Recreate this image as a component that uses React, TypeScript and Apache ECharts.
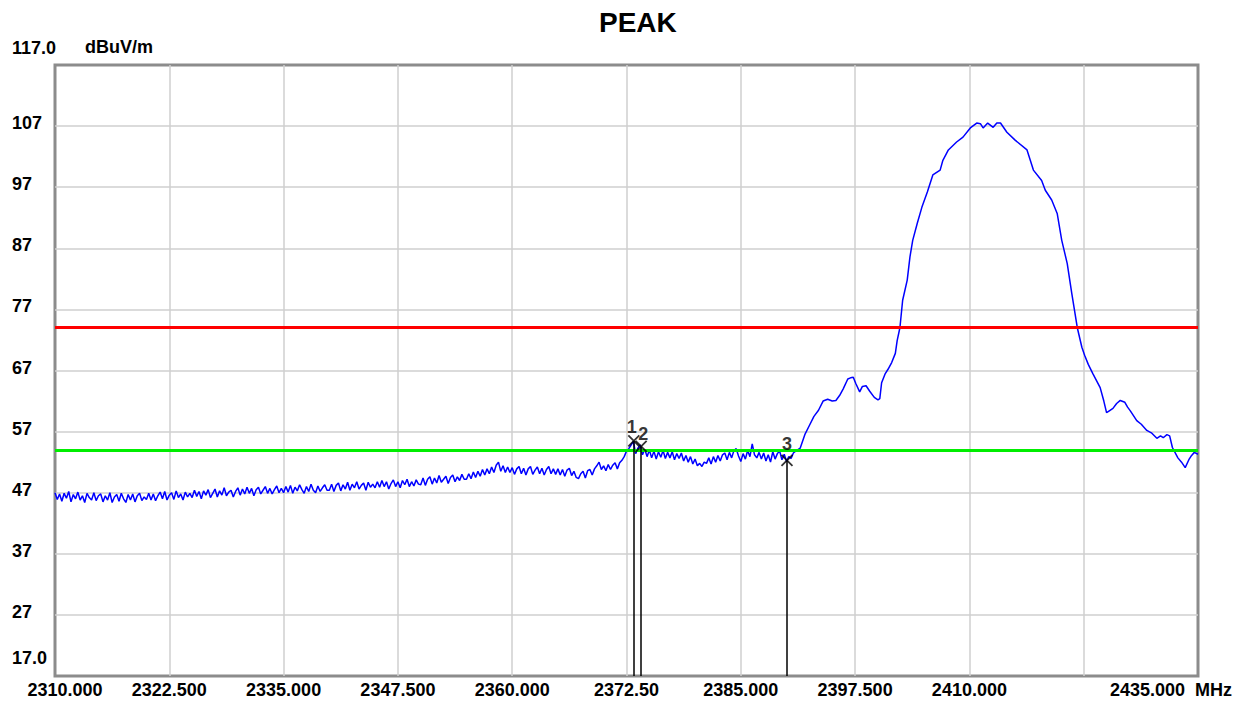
import React, { useEffect, useRef } from 'react';
import * as echarts from 'echarts';

const X_MIN = 2310;
const X_MAX = 2435;
const X_STEP = 12.5;
const Y_MIN = 17;
const Y_MAX = 117;
const Y_STEP = 10;

const xTickLabels = ['2310.000', '2322.500', '2335.000', '2347.500', '2360.000', '2372.50', '2385.000', '2397.500', '2410.000', '', '2435.000  MHz'];
const yUnit = 'dBuV/m';
const titleText = 'PEAK';

// Noise floor trace, sampled every 0.25 MHz from 2310 MHz
const noiseStartMHz = 2310;
const noiseStepMHz = 0.25;
const noiseLevels = [
  47.0, 45.9, 46.8, 45.6, 46.9, 46.1, 47.2, 45.5, 46.7, 46.0, 47.1, 45.8, 46.5, 45.4, 46.9, 46.2, 45.8, 47.0, 45.7, 46.5,
  46.8, 45.5, 46.5, 45.8, 47.0, 45.4, 46.3, 46.7, 45.6, 46.9, 46.0, 45.4, 46.7, 45.8, 46.8, 45.5, 46.5, 46.9, 45.7, 46.3,
  45.9, 46.9, 45.8, 46.8, 45.7, 46.5, 47.1, 46.0, 47.2, 45.8, 46.6, 47.0, 45.9, 47.3, 46.2, 46.8, 45.8, 47.1, 46.3, 46.9,
  46.2, 47.4, 46.4, 47.2, 46.0, 47.3, 46.6, 47.5, 46.2, 46.9, 47.6, 46.3, 47.3, 46.6, 47.8, 46.5, 47.1, 47.4, 46.3, 47.2,
  47.8, 46.6, 47.6, 46.8, 47.9, 46.9, 47.7, 46.5, 47.5, 47.9, 46.8, 47.4, 48.0, 46.9, 47.7, 46.8, 47.5, 48.1, 47.0, 47.7,
  47.0, 48.0, 47.1, 48.2, 46.9, 47.9, 47.3, 48.3, 47.5, 46.9, 48.0, 47.2, 48.4, 47.4, 47.0, 48.1, 47.2, 47.8, 48.3, 47.4,
  47.4, 48.4, 47.2, 48.2, 48.6, 47.3, 48.3, 47.6, 48.7, 47.4, 48.4, 47.8, 48.8, 47.6, 48.2, 48.6, 47.4, 48.7, 47.9, 48.4,
  47.8, 48.8, 47.9, 49.0, 48.0, 48.8, 47.6, 48.5, 49.1, 48.0, 48.8, 47.8, 49.0, 48.3, 49.2, 48.0, 48.8, 48.1, 49.1, 48.4,
  48.3, 49.4, 48.2, 49.2, 49.6, 48.4, 49.4, 48.6, 49.8, 48.7, 49.2, 49.7, 48.5, 49.5, 49.9, 48.8, 49.6, 49.0, 50.0, 49.2,
  49.2, 50.1, 49.3, 50.4, 49.5, 50.5, 49.7, 50.8, 49.9, 50.9, 50.1, 51.2, 50.3, 51.5, 52.0, 50.5, 51.4, 50.3, 51.2, 50.3,
  51.1, 50.0, 50.9, 51.3, 50.1, 51.0, 49.9, 50.9, 51.3, 50.0, 50.7, 51.2, 50.1, 51.0, 49.9, 50.8, 51.3, 50.1, 50.9, 50.0,
  50.9, 49.9, 50.8, 49.7, 50.7, 51.0, 49.8, 50.5, 49.5, 49.3, 50.1, 50.5, 49.4, 50.6, 50.8, 49.9, 50.9, 51.4, 52.0, 50.8,
  51.4, 50.6, 51.6, 50.8, 51.5, 51.9, 50.9, 51.9, 52.3, 52.9, 53.8, 54.2, 54.8, 55.4, 53.4, 54.3, 54.8, 53.2, 54.1, 52.9,
  54.0, 52.7, 53.8, 52.5, 53.7, 52.8, 53.9, 52.6, 53.6, 52.7, 53.7, 52.4, 53.4, 52.6, 53.5, 52.2, 53.1, 52.0, 52.9, 51.7,
  52.5, 51.4, 51.8, 51.3, 52.0, 51.8, 52.7, 51.7, 52.9, 52.0, 53.1, 52.2, 53.2, 53.5, 52.4, 53.6, 52.7, 53.9, 54.2, 53.0,
  52.1, 53.4, 52.5, 53.9, 52.9, 55.0, 53.2, 52.7, 53.6, 52.5, 53.5, 52.2, 53.2, 52.0, 53.7, 52.5, 53.4, 53.8, 52.4, 53.3,
  52.1, 52.9, 52.6, 53.5, 53.8,
];

// Emission part of the trace
const peakFreqs = [
  2391.5, 2392.0, 2392.5, 2393.0, 2393.5, 2394.0, 2394.5, 2395.0, 2395.4, 2395.8,
  2396.2, 2396.7, 2397.0, 2397.3, 2397.6, 2398.0, 2398.3, 2398.7, 2399.1, 2399.6,
  2400.0, 2400.2, 2400.4, 2400.8, 2401.1, 2401.5, 2401.9, 2402.1, 2402.4, 2402.7,
  2403.2, 2403.5, 2403.8, 2404.3, 2404.8, 2405.4, 2406.0, 2406.8, 2407.1, 2407.7,
  2408.6, 2409.3, 2410.1, 2410.8, 2411.2, 2411.5, 2412.0, 2412.6, 2413.0, 2413.4,
  2414.1, 2415.0, 2416.3, 2417.0, 2417.9, 2418.3, 2419.0, 2419.6, 2420.1, 2420.7,
  2421.2, 2421.8, 2422.3, 2422.6, 2423.0, 2423.5, 2424.3, 2424.7, 2425.0, 2425.3,
  2425.7, 2426.1, 2426.5, 2427.0, 2427.3, 2427.6, 2428.3, 2428.8, 2429.4, 2429.9,
  2430.5, 2430.9, 2431.2, 2431.6, 2431.9, 2432.2, 2432.8, 2433.2, 2433.6, 2434.0,
  2434.3, 2434.6, 2435.0,
];
const peakLevels = [
  54.3, 56.5, 58.0, 59.5, 60.5, 62.0, 62.3, 62.0, 62.1, 62.9,
  64.0, 65.6, 65.8, 65.9, 64.8, 63.5, 64.4, 64.5, 63.6, 62.6,
  62.2, 62.4, 65.0, 66.5, 67.2, 68.3, 69.8, 71.9, 74.0, 78.5,
  81.8, 85.6, 88.3, 91.1, 93.7, 96.2, 99.0, 99.8, 101.4, 103.1,
  104.4, 105.2, 106.7, 107.5, 107.4, 106.7, 107.5, 106.8, 107.5, 107.5,
  106.0, 104.7, 103.1, 99.8, 98.1, 96.5, 94.9, 92.7, 88.3, 84.5,
  79.6, 74.0, 70.8, 69.5, 68.0, 66.5, 64.2, 62.0, 60.1, 60.4,
  60.8, 61.6, 62.1, 61.8, 61.0, 60.4, 58.8, 58.2, 57.2, 56.8,
  55.9, 56.3, 56.0, 56.5, 56.3, 54.4, 52.7, 52.0, 51.1, 52.4,
  53.1, 53.6, 53.3,
];

const limitRed = 74;
const limitGreen = 54;

const markerNames = ['1', '2', '3'];
const markerFreqs = [2373.3, 2374.1, 2390.05];
const markerLevels = [55.5, 54.6, 52.3];

const FONT = '"Liberation Sans", Arial, sans-serif';

export default function App() {
  const ref = useRef<HTMLDivElement>(null);

  useEffect(() => {
    if (!ref.current) return;
    const chart = echarts.init(ref.current, undefined, { renderer: 'svg' });

    const trace: [number, number][] = [];
    noiseLevels.forEach((v, i) => trace.push([noiseStartMHz + i * noiseStepMHz, v]));
    peakFreqs.forEach((f, i) => trace.push([f, peakLevels[i]]));

    const labelOffsets = [[-2, -14], [2, -12], [0, -16]];

    const lblFont = { fontFamily: FONT, fontSize: 18, fontWeight: 'bold' as const, color: '#000' };

    const option: any = {
      animation: false,
      backgroundColor: '#fff',
      title: {
        text: titleText,
        left: 594,
        top: 3,
        textStyle: { fontFamily: FONT, fontSize: 28, fontWeight: 'bold', color: '#000' },
      },
      grid: {
        left: 55,
        right: 49,
        top: 65,
        bottom: 26,
        show: true,
        borderColor: '#8c8c8c',
        borderWidth: 3,
        backgroundColor: '#fff',
      },
      xAxis: {
        type: 'value',
        min: X_MIN,
        max: X_MAX,
        interval: X_STEP,
        axisLine: { show: false },
        axisTick: { show: false },
        splitLine: { show: true, showMinLine: false, showMaxLine: false, lineStyle: { color: '#cfcfcf', width: 1.5 } },
        axisLabel: {
          margin: 5,
          showMinLabel: true,
          showMaxLabel: true,
          hideOverlap: false,
          ...lblFont,
          formatter: (v: number) => {
            const i = Math.round((v - X_MIN) / X_STEP);
            const t = xTickLabels[i] ?? '';
            if (!t) return '';
            if (i === 0) return '{first|' + t + '}';
            if (i === xTickLabels.length - 1) return '{last|' + t + '}';
            return '{n|' + t + '}';
          },
          rich: {
            first: { ...lblFont, padding: [0, 0, 0, 20] },
            last: { ...lblFont, padding: [0, 54, 0, 0] },
            n: { ...lblFont },
          },
        },
      },
      yAxis: {
        type: 'value',
        min: Y_MIN,
        max: Y_MAX,
        interval: Y_STEP,
        name: yUnit,
        nameLocation: 'end',
        nameGap: 18,
        nameTextStyle: { ...lblFont, align: 'left', verticalAlign: 'middle', padding: [0, 0, 0, 30] },
        axisLine: { show: false },
        axisTick: { show: false },
        splitLine: { show: true, showMinLine: false, showMaxLine: false, lineStyle: { color: '#cfcfcf', width: 1.5 } },
        axisLabel: {
          align: 'left',
          margin: 43,
          showMinLabel: true,
          showMaxLabel: true,
          ...lblFont,
          formatter: (v: number) => {
            if (v === Y_MAX) return '{top|' + v.toFixed(1) + '}';
            if (v === Y_MIN) return '{bot|' + v.toFixed(1) + '}';
            return '{n|' + String(v) + '}';
          },
          rich: {
            top: { ...lblFont, padding: [0, 0, 34, 0] },
            bot: { ...lblFont, padding: [0, 0, 36, 0] },
            n: { ...lblFont, padding: [0, 0, 6, 0] },
          },
        },
      },
      series: [
        {
          type: 'line',
          data: trace,
          showSymbol: false,
          symbol: 'none',
          lineStyle: { color: '#0000ff', width: 1.5 },
          z: 3,
          markLine: {
            silent: true,
            symbol: ['none', 'none'],
            label: { show: false },
            data: [
              { yAxis: limitRed, lineStyle: { color: '#ff0000', width: 3, type: 'solid' } },
              { yAxis: limitGreen, lineStyle: { color: '#00ee00', width: 3, type: 'solid' } },
            ],
          },
        },
        {
          type: 'scatter',
          z: 5,
          symbol: 'path://M0,0L10,10M10,0L0,10',
          symbolSize: 11,
          itemStyle: { color: 'rgba(0,0,0,0)', borderColor: '#000', borderWidth: 1.8 },
          data: markerFreqs.map((f, i) => ({
            value: [f, markerLevels[i]],
            label: {
              show: true,
              position: 'inside',
              offset: labelOffsets[i],
              formatter: markerNames[i],
              fontFamily: FONT,
              fontSize: 18,
              fontWeight: 'bold',
              color: '#000',
            },
          })),
          markLine: {
            silent: true,
            symbol: ['none', 'none'],
            label: { show: false },
            lineStyle: { color: '#000', width: 1.5, type: 'solid' },
            data: markerFreqs.map((f, i) => [
              { coord: [f, markerLevels[i]] },
              { coord: [f, Y_MIN] },
            ]),
          },
        },
      ],
    };

    chart.setOption(option);
    return () => chart.dispose();
  }, []);

  return (
    <div
      ref={ref}
      style={{ position: 'fixed', left: 0, top: 0, width: '1247px', height: '702px', background: '#fff' }}
    />
  );
}
